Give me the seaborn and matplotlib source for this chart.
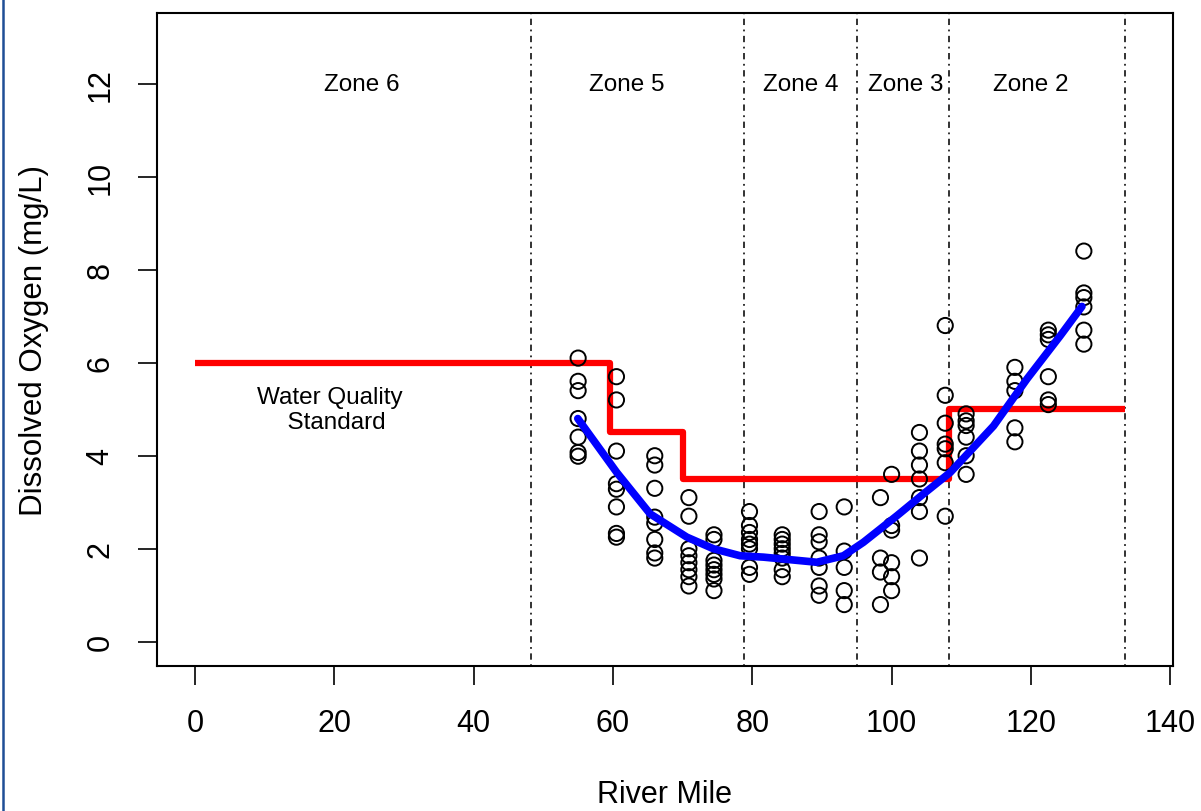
import numpy as np
import pandas as pd
import seaborn as sns
import matplotlib.pyplot as plt
from matplotlib.lines import Line2D

sns.set_style("white")
plt.rcParams['font.family'] = ['Liberation Sans', 'DejaVu Sans']
plt.rcParams['text.color'] = 'black'
plt.rcParams['axes.labelcolor'] = 'black'
plt.rcParams['xtick.color'] = 'black'
plt.rcParams['ytick.color'] = 'black'

# observed dissolved oxygen, grouped by sampling river mile
site_mile = [55.0, 60.5, 66.0, 70.9, 74.5, 79.6, 84.3, 89.6, 93.2, 98.4,
             100.0, 104.0, 107.7, 110.7, 117.7, 122.5, 127.6]
site_do = [
    [6.1, 5.6, 5.4, 4.8, 4.4, 4.07, 3.99],
    [5.7, 5.2, 4.1, 3.4, 3.28, 2.9, 2.33, 2.25],
    [4.0, 3.8, 3.3, 2.68, 2.55, 2.2, 1.91, 1.8],
    [3.1, 2.7, 2.0, 1.85, 1.7, 1.55, 1.4, 1.2],
    [2.3, 2.2, 1.75, 1.65, 1.55, 1.45, 1.35, 1.1],
    [2.8, 2.5, 2.35, 2.2, 2.1, 2.0, 1.6, 1.45],
    [2.3, 2.2, 2.1, 2.0, 1.9, 1.8, 1.55, 1.4],
    [2.8, 2.3, 2.15, 1.8, 1.6, 1.2, 1.0],
    [2.9, 1.95, 1.6, 1.1, 0.8],
    [3.1, 1.8, 1.5, 0.8],
    [3.6, 2.5, 2.4, 1.7, 1.4, 1.1],
    [4.5, 4.1, 3.8, 3.5, 3.1, 2.8, 1.8],
    [6.8, 5.3, 4.7, 4.25, 4.15, 3.85, 2.7],
    [4.9, 4.75, 4.65, 4.4, 4.0, 3.6],
    [5.9, 5.6, 5.4, 4.6, 4.3],
    [6.7, 6.6, 6.5, 5.7, 5.2, 5.1],
    [8.4, 7.5, 7.4, 7.2, 6.7, 6.4],
]

# smoothed trend
trend_mile = [54.95, 60.55, 65.34, 70.61, 74.43, 78.26, 81.61, 89.27, 93.09,
              95.96, 100.76, 104.58, 108.41, 114.63, 119.43, 124.21, 127.33]
trend_do = [4.80, 3.64, 2.75, 2.25, 2.00, 1.85, 1.82, 1.71, 1.85,
            2.14, 2.71, 3.18, 3.64, 4.64, 5.65, 6.58, 7.21]

# water quality standard (step)
std_mile = [0, 59.6, 70.1, 108.3, 133.5]
std_do = [6.0, 4.5, 3.5, 5.0, 5.0]

zone_bounds = [48.25, 78.8, 95.06, 108.3, 133.5]
zone_names = ["Zone 6", "Zone 5", "Zone 4", "Zone 3", "Zone 2"]
zone_label_x = [24, 62, 86.9, 102, 120]

obs = pd.DataFrame({
    "mile": [m for m, v in zip(site_mile, site_do) for _ in v],
    "do": [d for v in site_do for d in v],
})

fig = plt.figure(figsize=(12.01, 8.12), dpi=100)
ax = fig.add_axes([0.1307, 0.1786, 0.846, 0.8042])

for xb in zone_bounds:
    ax.axvline(xb, color="#222222", lw=1.3, ls=(0, (1, 2.5, 3.5, 2.5)), zorder=1)

sns.lineplot(x=std_mile, y=std_do, ax=ax, color="#FF0000", lw=4.5,
             drawstyle="steps-post", solid_capstyle="butt", zorder=2)
sns.scatterplot(data=obs, x="mile", y="do", ax=ax, marker="o", s=120,
                facecolors="none", edgecolor="black", linewidth=1.4, zorder=3)
sns.lineplot(x=trend_mile, y=trend_do, ax=ax, color="#0000FF", lw=5.5,
             sort=False, solid_capstyle="round", zorder=4)

for name, zx in zip(zone_names, zone_label_x):
    ax.text(zx, 12, name, ha="center", va="center", fontsize=17.5)
ax.text(19.4, 5.0, "Water Quality\n  Standard", ha="center", va="center",
        fontsize=17.5, linespacing=1.2)

ax.set_xlim(-5.46, 140.4)
ax.set_ylim(-0.52, 13.52)
ax.set_xticks(range(0, 141, 20))
ax.set_yticks(range(0, 13, 2))
ax.tick_params(axis="both", direction="out", length=14, width=1.2,
               labelsize=22, pad=16, left=True, bottom=True)
for lab in ax.get_yticklabels():
    lab.set_rotation(90)
    lab.set_va("center")
for sp in ax.spines.values():
    sp.set_color("black")
    sp.set_linewidth(1.5)

ax.set_xlabel("River Mile", fontsize=22, labelpad=30)
ax.set_ylabel("Dissolved Oxygen (mg/L)", fontsize=22.5, labelpad=26)

fig.add_artist(Line2D([0.0028, 0.0028], [0, 1], transform=fig.transFigure,
                      color="#1f4e96", lw=1.8))

fig.savefig("out.png", dpi=100)
